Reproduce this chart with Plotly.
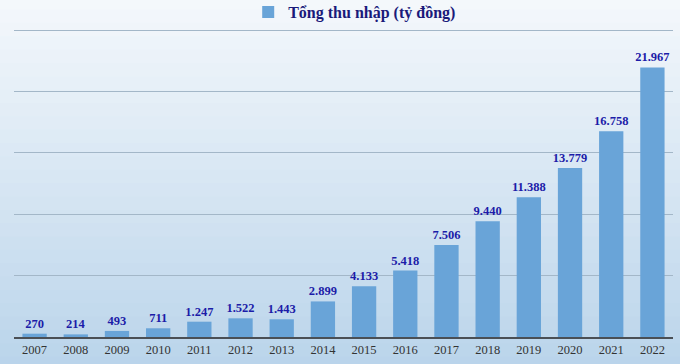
import plotly.graph_objects as go

years = ["2007", "2008", "2009", "2010", "2011", "2012", "2013", "2014",
         "2015", "2016", "2017", "2018", "2019", "2020", "2021", "2022"]
income = [270, 214, 493, 711, 1247, 1522, 1443, 2899,
          4133, 5418, 7506, 9440, 11388, 13779, 16758, 21967]
labels = ["270", "214", "493", "711", "1.247", "1.522", "1.443", "2.899",
          "4.133", "5.418", "7.506", "9.440", "11.388", "13.779", "16.758", "21.967"]
series_name = "Tổng thu nhập (tỷ đồng)"

fig = go.Figure()
fig.add_trace(go.Bar(
    x=years, y=income, name="<b>" + series_name + "</b>",
    text=["<b>" + s + "</b>" for s in labels], textposition="outside",
    cliponaxis=False, constraintext="none",
    textfont=dict(family="Liberation Serif", size=12.5, color="#1c1ca8"),
    marker=dict(color="#69a4d8", line=dict(width=0)),
))

# vertical gradient background using overlapping bands
shapes = []
n = 30
top = (246, 249, 252)
bot = (184, 211, 234)
step = 1.3 / n
for i in range(n):
    t = i / (n - 1)
    c = tuple(round(top[k] + (bot[k] - top[k]) * t) for k in range(3))
    y1 = 1.15 - i * step
    shapes.append(dict(type="rect", xref="paper", yref="paper", layer="below",
                       x0=-0.05, x1=1.05,
                       y0=-0.2 if i == n - 1 else y1 - step * 1.6, y1=y1,
                       fillcolor="rgb(%d,%d,%d)" % c, line=dict(width=0)))

fig.update_layout(
    width=680, height=364,
    margin=dict(l=14, r=7, t=29, b=27, autoexpand=False),
    paper_bgcolor="#f5f8fb",
    plot_bgcolor="rgba(0,0,0,0)",
    bargap=0.41,
    shapes=shapes,
    showlegend=True,
    legend=dict(orientation="h", x=0.517, xanchor="center", y=1.0, yanchor="bottom",
                font=dict(family="Liberation Serif", size=16, color="#1a1a7a"),
                bgcolor="rgba(0,0,0,0)", itemwidth=30),
    font=dict(family="Liberation Serif"),
    xaxis=dict(showgrid=False, showline=True, linecolor="#4a4f55", linewidth=2,
               tickfont=dict(family="Liberation Serif", size=12.5, color="#333333"),
               ticks=""),
    yaxis=dict(range=[0, 25100], dtick=5000, showticklabels=False,
               showgrid=True, gridcolor="#a3b7c8", gridwidth=1, zeroline=False),
)

fig.write_html("out.html", config={"displayModeBar": False},
               post_script="document.body.style.margin='0';")
